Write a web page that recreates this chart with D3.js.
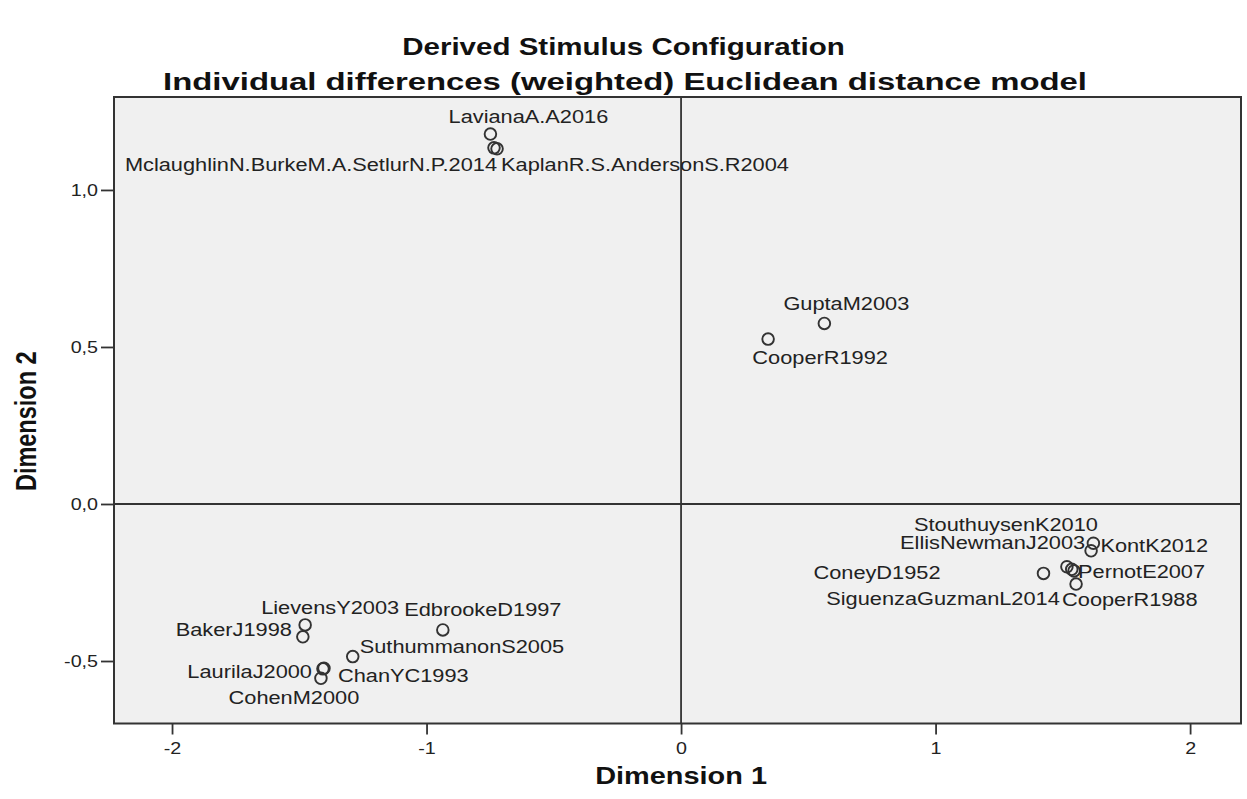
<!DOCTYPE html>
<html>
<head>
<meta charset="utf-8">
<script src="https://cdn.jsdelivr.net/npm/d3@7"></script>
<style>
  html, body { margin: 0; padding: 0; background: #ffffff; }
  svg { display: block; font-family: "Liberation Sans", Arial, sans-serif; }
</style>
</head>
<body>
<svg id="chart" width="1247" height="799"></svg>
<script>
// ---- data ----
const stimuli = [
  "LavianaA.A2016", "MclaughlinN.BurkeM.A.SetlurN.P.2014", "KaplanR.S.AndersonS.R2004",
  "GuptaM2003", "CooperR1992",
  "StouthuysenK2010", "EllisNewmanJ2003", "KontK2012", "ConeyD1952",
  "SiguenzaGuzmanL2014", "PernotE2007", "CooperR1988",
  "LievensY2003", "BakerJ1998", "EdbrookeD1997", "SuthummanonS2005",
  "LaurilaJ2000", "ChanYC1993", "CohenM2000"
];
const dim1 = [
  -0.749, -0.735, -0.723,
  0.563, 0.342,
  1.516, 1.611, 1.620, 1.424,
  1.535, 1.544, 1.552,
  -1.477, -1.486, -0.936, -1.290,
  -1.407, -1.403, -1.415
];
const dim2 = [
  1.178, 1.134, 1.131,
  0.575, 0.525,
  -0.200, -0.149, -0.125, -0.221,
  -0.208, -0.213, -0.255,
  -0.385, -0.423, -0.401, -0.486,
  -0.525, -0.523, -0.555
];
const xTickValues = [-2, -1, 0, 1, 2];
const xTickLabels = ["-2", "-1", "0", "1", "2"];
const yTickValues = [1.0, 0.5, 0.0, -0.5];
const yTickLabels = ["1,0", "0,5", "0,0", "-0,5"];
const titleLines = ["Derived Stimulus Configuration",
                    "Individual differences (weighted) Euclidean distance model"];
const xTitle = "Dimension 1";
const yTitle = "Dimension 2";

// ---- layout (label placement relative to each point, in px) ----
const labelLayout = [
  {dx: 38, dy: -17, a: "middle"}, {dx: 3, dy: 17, a: "end"}, {dx: 4, dy: 16, a: "start"},
  {dx: 22, dy: -20, a: "middle"}, {dx: 52, dy: 18, a: "middle"},
  {dx: 31, dy: -42, a: "end"}, {dx: -6, dy: -8, a: "end"}, {dx: 7, dy: 2, a: "start"}, {dx: -103, dy: -1, a: "end"},
  {dx: -12, dy: 29, a: "end"}, {dx: 4, dy: 1, a: "start"}, {dx: -14, dy: 16, a: "start"},
  {dx: 25, dy: -17, a: "middle"}, {dx: -11, dy: -7, a: "end"}, {dx: 40, dy: -20, a: "middle"}, {dx: 7, dy: -10, a: "start"},
  {dx: -11, dy: 3, a: "end"}, {dx: 14, dy: 7, a: "start"}, {dx: -27, dy: 19, a: "middle"}
];

const SX = 1.23;           // horizontal stretch of the reference text
const ink = "#333333";
const plot = {left: 114, right: 1241, top: 97, bottom: 723.5};

const svg = d3.select("#chart");

const x = d3.scaleLinear().domain([-2.228, 2.200]).range([plot.left, plot.right]);
const y = d3.scaleLinear().domain([-0.699, 1.296]).range([plot.bottom, plot.top]);

// plot background
svg.append("rect")
  .attr("x", plot.left).attr("y", plot.top)
  .attr("width", plot.right - plot.left).attr("height", plot.bottom - plot.top)
  .attr("fill", "#f0f0f0");

// reference lines at 0
svg.append("line")
  .attr("x1", x(0)).attr("x2", x(0)).attr("y1", plot.top).attr("y2", plot.bottom)
  .attr("stroke", ink).attr("stroke-width", 1.8);
svg.append("line")
  .attr("x1", plot.left).attr("x2", plot.right).attr("y1", y(0)).attr("y2", y(0))
  .attr("stroke", ink).attr("stroke-width", 1.8);

// border
svg.append("rect")
  .attr("x", plot.left).attr("y", plot.top)
  .attr("width", plot.right - plot.left).attr("height", plot.bottom - plot.top)
  .attr("fill", "none").attr("stroke", ink).attr("stroke-width", 2);

// axes
const yAxis = svg.append("g")
  .attr("transform", `translate(${plot.left},0)`)
  .call(d3.axisLeft(y).tickValues(yTickValues).tickSize(13)
        .tickFormat((d, i) => yTickLabels[i]));
yAxis.select(".domain").remove();
yAxis.selectAll(".tick line").attr("stroke", ink).attr("stroke-width", 1.8);
yAxis.selectAll(".tick text")
  .attr("x", 0).attr("dy", "0.36em")
  .attr("transform", `translate(-16,0) scale(${SX},1)`)
  .attr("font-size", 16).attr("fill", "#222").attr("font-family", "Liberation Sans, Arial, sans-serif");

const xAxis = svg.append("g")
  .attr("transform", `translate(0,${plot.bottom})`)
  .call(d3.axisBottom(x).tickValues(xTickValues).tickSize(11)
        .tickFormat((d, i) => xTickLabels[i]));
xAxis.select(".domain").remove();
xAxis.selectAll(".tick line").attr("stroke", ink).attr("stroke-width", 1.8);
xAxis.selectAll(".tick text")
  .attr("y", 0).attr("dy", 0)
  .attr("transform", `translate(0,30) scale(${SX},1)`)
  .attr("font-size", 16).attr("fill", "#222").attr("font-family", "Liberation Sans, Arial, sans-serif");

// points
const pts = stimuli.map((name, i) => ({name, v1: dim1[i], v2: dim2[i], lay: labelLayout[i]}));

svg.append("g").selectAll("circle").data(pts).join("circle")
  .attr("cx", d => x(d.v1)).attr("cy", d => y(d.v2)).attr("r", 5.8)
  .attr("fill", "none").attr("stroke", ink).attr("stroke-width", 1.9);

svg.append("g").selectAll("text").data(pts).join("text")
  .attr("transform", d => `translate(${x(d.v1) + d.lay.dx},${y(d.v2) + d.lay.dy}) scale(${SX},1)`)
  .attr("dy", "0.36em")
  .attr("text-anchor", d => d.lay.a)
  .attr("font-size", 17.7).attr("fill", "#222")
  .text(d => d.name);

// titles
svg.append("text")
  .attr("transform", `translate(623.5,55) scale(${SX},1)`)
  .attr("text-anchor", "middle").attr("font-weight", "bold").attr("font-size", 24)
  .attr("fill", "#111").text(titleLines[0]);
svg.append("text")
  .attr("transform", `translate(625,90) scale(1.37,1)`)
  .attr("text-anchor", "middle").attr("font-weight", "bold").attr("font-size", 24)
  .attr("fill", "#111").text(titleLines[1]);

// axis titles
svg.append("text")
  .attr("transform", `translate(${x(0)},784) scale(${SX},1)`)
  .attr("text-anchor", "middle").attr("font-weight", "bold").attr("font-size", 23.5)
  .attr("fill", "#111").text(xTitle);
svg.append("text")
  .attr("transform", `translate(36,${(plot.top + plot.bottom) / 2 + 11}) scale(${SX},1) rotate(-90)`)
  .attr("text-anchor", "middle").attr("font-weight", "bold").attr("font-size", 23.5)
  .attr("fill", "#111").text(yTitle);
</script>
</body>
</html>
